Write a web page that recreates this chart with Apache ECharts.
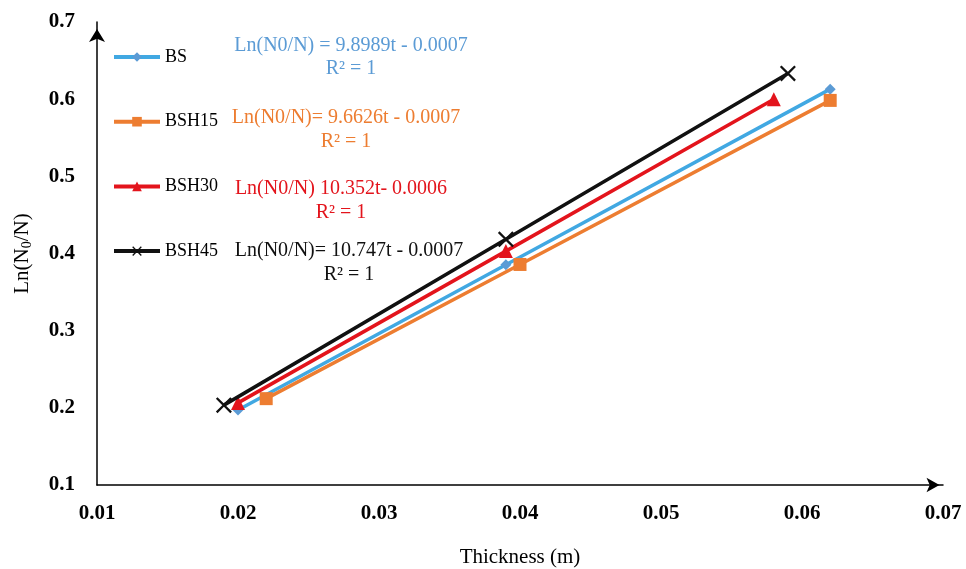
<!DOCTYPE html>
<html>
<head>
<meta charset="utf-8">
<script src="https://cdn.jsdelivr.net/npm/echarts@6/dist/echarts.min.js"></script>
<style>
html,body{margin:0;padding:0;background:#fff;}
#chart{width:966px;height:569px;}
</style>
</head>
<body>
<div id="chart"></div>
<script>
// Thickness (m) and Ln(N0/N) values for each sample
const seriesNames = ['BS', 'BSH15', 'BSH30', 'BSH45'];
const thicknessBS = [0.02, 0.039, 0.062];
const lnBS = [0.1973, 0.3854, 0.6130];
const thicknessBSH15 = [0.022, 0.04, 0.062];
const lnBSH15 = [0.2119, 0.3858, 0.5984];
const thicknessBSH30 = [0.02, 0.039, 0.058];
const lnBSH30 = [0.2064, 0.4031, 0.5998];
const thicknessBSH45 = [0.019, 0.039, 0.059];
const lnBSH45 = [0.2035, 0.4184, 0.6334];
const fitLines = [
  'Ln(N0/N) = 9.8989t - 0.0007',
  'Ln(N0/N)= 9.6626t - 0.0007',
  'Ln(N0/N) 10.352t- 0.0006',
  'Ln(N0/N)= 10.747t - 0.0007'
];
const fitR2 = ['R² = 1', 'R² = 1', 'R² = 1', 'R² = 1'];

const serif = 'Liberation Serif, Times New Roman, serif';
const lineColors = ['#41A8E2', '#ED7D31', '#E3141C', '#111111'];
const markerColors = ['#5B9BD5', '#ED7D31', '#E3141C', '#111111'];
const textColors = ['#5B9BD5', '#ED7D31', '#E3141C', '#111111'];
const crossPath = 'path://M0,1L1,0L5,4L9,0L10,1L6,5L10,9L9,10L5,6L1,10L0,9L4,5Z';
const symbols = ['diamond', 'rect', 'triangle', crossPath];
const symbolSizes = [11, 13, 14, 16];

function pairs(xs, ys) { return xs.map((x, i) => [x, ys[i]]); }
const dataSets = [
  pairs(thicknessBS, lnBS),
  pairs(thicknessBSH15, lnBSH15),
  pairs(thicknessBSH30, lnBSH30),
  pairs(thicknessBSH45, lnBSH45)
];

const series = seriesNames.map((name, i) => ({
  name: name,
  type: 'line',
  data: dataSets[i],
  symbol: symbols[i],
  symbolSize: symbolSizes[i],
  showAllSymbol: true,
  lineStyle: { color: lineColors[i], width: 3.5 },
  itemStyle: { color: markerColors[i] },
  emphasis: { disabled: true },
  z: 2 + i
}));

// trend-line equations placed beside the legend entries
const eqCenters = [[351, 46, 69], [346, 118, 142], [341, 189, 213], [349, 251, 275]];
const graphics = [];
fitLines.forEach((t, i) => {
  graphics.push({
    type: 'text', x: eqCenters[i][0], y: eqCenters[i][1],
    style: { text: t, fill: textColors[i], font: '20px ' + serif, textAlign: 'center', textVerticalAlign: 'middle' }
  });
  graphics.push({
    type: 'text', x: eqCenters[i][0], y: eqCenters[i][2],
    style: { text: fitR2[i], fill: textColors[i], font: '20px ' + serif, textAlign: 'center', textVerticalAlign: 'middle' }
  });
});

const chart = echarts.init(document.getElementById('chart'));
chart.setOption({
  animation: false,
  backgroundColor: '#ffffff',
  grid: { left: 97, right: 23, top: 22, bottom: 84, containLabel: false, outerBoundsMode: 'none' },
  legend: {
    orient: 'vertical',
    left: 107,
    top: 43,
    itemWidth: 46,
    itemHeight: 12,
    itemGap: 46.7,
    selectedMode: false,
    lineStyle: { width: 4 },
    textStyle: { fontFamily: serif, fontSize: 18, color: '#000' },
    data: seriesNames
  },
  xAxis: {
    type: 'value',
    min: 0.01, max: 0.07, interval: 0.01,
    name: 'Thickness (m)',
    nameLocation: 'middle',
    nameGap: 62,
    nameTextStyle: { fontFamily: serif, fontSize: 21, color: '#000' },
    axisLine: { show: true, onZero: false, lineStyle: { color: '#000', width: 1.5 }, symbol: ['none', 'arrow'], symbolSize: [11, 13], symbolOffset: [0, -3.5] },
    axisTick: { show: false },
    splitLine: { show: false },
    axisLabel: {
      margin: 18, fontFamily: serif, fontSize: 21, fontWeight: 'bold', color: '#000',
      formatter: v => v.toFixed(2)
    }
  },
  yAxis: {
    type: 'value',
    min: 0.1, max: 0.7, interval: 0.1,
    name: '{a|Ln(N}{s|0}{a|/N)}',
    nameLocation: 'middle',
    nameGap: 63,
    nameRotate: 90,
    nameTextStyle: {
      rich: {
        a: { fontFamily: serif, fontSize: 21, color: '#000' },
        s: { fontFamily: serif, fontSize: 14, color: '#000', verticalAlign: 'bottom', padding: [9, 0, 0, 0] }
      }
    },
    axisLine: { show: true, onZero: false, lineStyle: { color: '#000', width: 1.5 }, symbol: ['none', 'arrow'], symbolSize: [12, 13], symbolOffset: [0, -7] },
    axisTick: { show: false },
    splitLine: { show: false },
    axisLabel: {
      margin: 22, padding: [4, 0, 0, 0], fontFamily: serif, fontSize: 21, fontWeight: 'bold', color: '#000',
      formatter: v => v.toFixed(1)
    }
  },
  graphic: graphics,
  series: series
});
</script>
</body>
</html>
